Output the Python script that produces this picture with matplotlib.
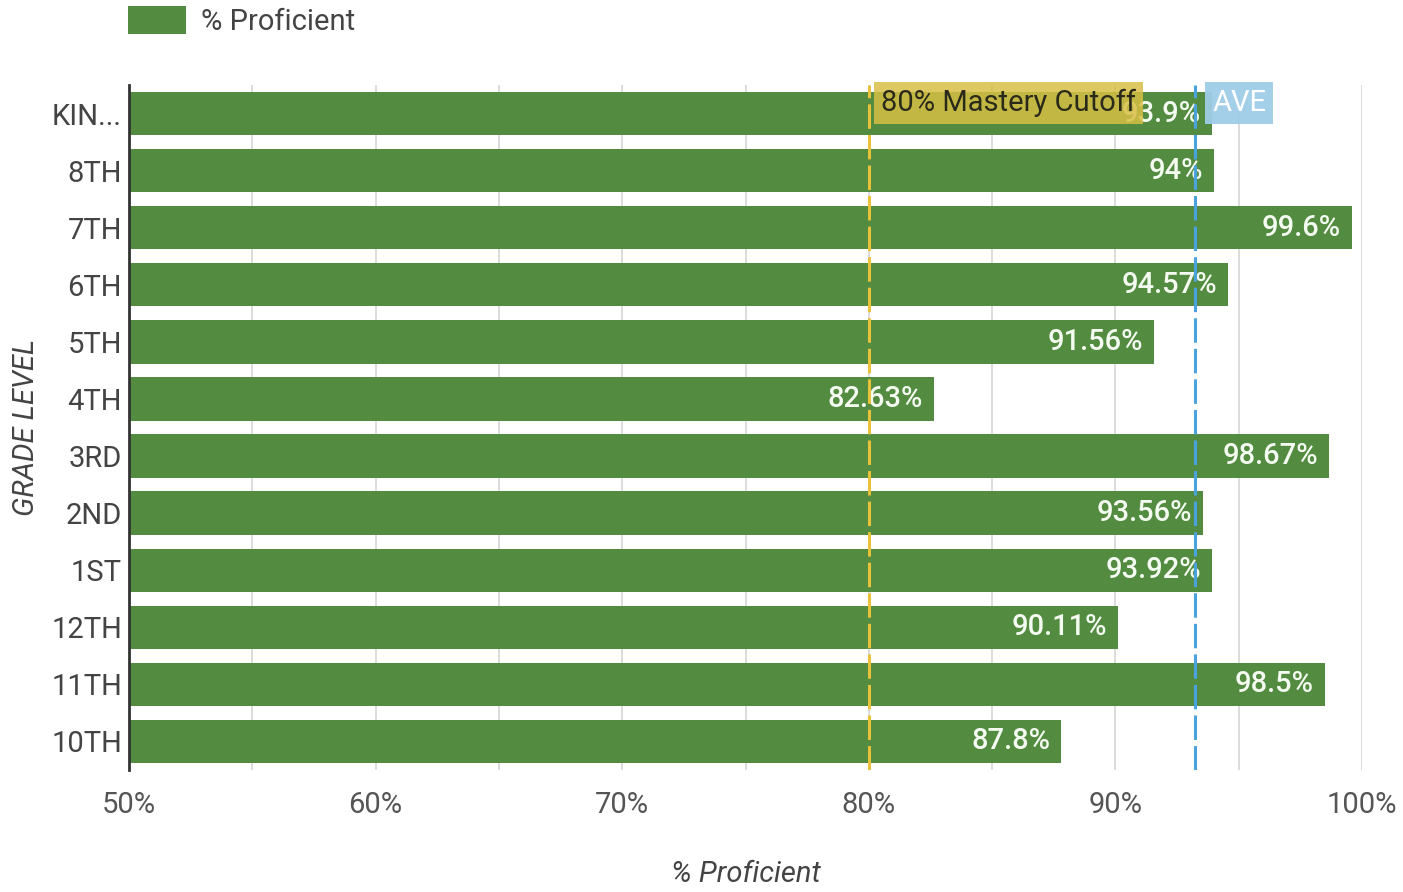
import matplotlib
matplotlib.use("Agg")
import matplotlib.pyplot as plt
from matplotlib.patches import Patch
import numpy as np

categories = ["KIN...", "8TH", "7TH", "6TH", "5TH", "4TH", "3RD", "2ND", "1ST", "12TH", "11TH", "10TH"]
values = [93.9, 94, 99.6, 94.57, 91.56, 82.63, 98.67, 93.56, 93.92, 90.11, 98.5, 87.8]
value_labels = ["93.9%", "94%", "99.6%", "94.57%", "91.56%", "82.63%", "98.67%", "93.56%", "93.92%", "90.11%", "98.5%", "87.8%"]
cutoff = 80
average = float(np.mean(values))
xticks = [50, 60, 70, 80, 90, 100]
xtick_labels = ["50%", "60%", "70%", "80%", "90%", "100%"]

plt.rcParams['font.family'] = ['Roboto', 'DejaVu Sans']

GREEN = '#538b41'
TXT = '#444444'
FS = 21

fig = plt.figure(figsize=(14.03, 8.92), dpi=100)
ax = fig.add_axes([129/1403, 1-770/892, (1362-129)/1403, (770-85)/892])

y = np.arange(len(categories))
ax.barh(y, [v - 50 for v in values], left=50, height=0.76, color=GREEN, zorder=2)

ax.set_xlim(50, 100)
ax.set_ylim(len(categories) - 0.5, -0.5)
ax.set_xticks(xticks)
ax.set_xticklabels(xtick_labels)
ax.set_xticks(np.arange(55, 100, 10), minor=True)
ax.set_yticks(y)
ax.set_yticklabels(categories)
ax.grid(axis='x', which='both', color='#d6d6d6', linewidth=1.2, zorder=0)
ax.tick_params(axis='x', which='both', length=0, labelsize=FS, labelcolor='#555555', pad=15)
ax.tick_params(axis='y', length=0, labelsize=FS, labelcolor=TXT, pad=5)
for s in ['top', 'right', 'bottom']:
    ax.spines[s].set_visible(False)
ax.spines['left'].set_color('#333333')
ax.spines['left'].set_linewidth(2)
ax.spines['left'].set_zorder(5)

for yi, v, lab in zip(y, values, value_labels):
    ax.text(v - 0.45, yi, lab, ha='right', va='center', color='#f4fbf0', fontsize=FS,
            fontweight='medium', zorder=3)

ax.axvline(cutoff, color='#e9c23c', linestyle=(0, (8, 2)), linewidth=2.2, zorder=4)
ax.axvline(average, color='#4aa3dc', linestyle=(0, (8, 2)), linewidth=2.2, zorder=4)

ax.text(cutoff + 0.5, -0.19, "80% Mastery Cutoff", ha='left', va='center', fontsize=FS,
        color='#2a2a1a', zorder=6,
        bbox=dict(boxstyle='square,pad=0.24', facecolor='#d8bf45', edgecolor='none', alpha=0.85))
ax.text(average + 0.7, -0.19, "AVE", ha='left', va='center', fontsize=FS,
        color='white', zorder=6,
        bbox=dict(boxstyle='square,pad=0.24', facecolor='#9fcde8', edgecolor='none', alpha=0.95))

ax.set_xlabel("% Proficient", fontsize=FS, style='italic', color=TXT, labelpad=30)
ax.set_ylabel("GRADE LEVEL", fontsize=FS, style='italic', color=TXT, labelpad=8)

fig.legend(handles=[Patch(facecolor=GREEN, edgecolor='none')], labels=["% Proficient"],
           loc='upper left', bbox_to_anchor=(128/1403, 1 - 6/892), frameon=False,
           fontsize=FS, handlelength=2.0, handleheight=1.1, handletextpad=0.5,
           borderpad=0, borderaxespad=0, labelcolor=TXT)

fig.savefig("out.png", dpi=100)
